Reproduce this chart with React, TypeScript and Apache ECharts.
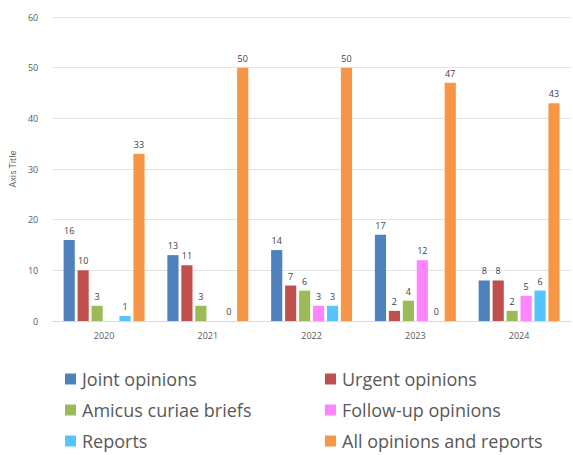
import React, { useEffect, useRef } from "react";
import * as echarts from "echarts";

// Opinions and reports issued per year
const years = ["2020", "2021", "2022", "2023", "2024"];
const jointOpinions = [16, 13, 14, 17, 8];
const urgentOpinions = [10, 11, 7, 2, 8];
const amicusBriefs = [3, 3, 6, 4, 2];
const followUpOpinions: (number | null)[] = [null, null, 3, 12, 5];
const reports = [1, 0, 3, 0, 6];
const allOpinionsAndReports = [33, 50, 50, 47, 43];
const yTicks = { min: 0, max: 60, interval: 10 };

const seriesDefs = [
  { name: "Joint opinions", data: jointOpinions, color: "#4F81BD" },
  { name: "Urgent opinions", data: urgentOpinions, color: "#C0504D" },
  { name: "Amicus curiae briefs", data: amicusBriefs, color: "#9BBB59" },
  { name: "Follow-up opinions", data: followUpOpinions, color: "#FF85FF" },
  { name: "Reports", data: reports, color: "#55C4FF" },
  { name: "All opinions and reports", data: allOpinionsAndReports, color: "#F79646" },
];

const FONT = "'Open Sans', 'Noto Sans', sans-serif";

export default function App() {
  const ref = useRef<HTMLDivElement>(null);

  useEffect(() => {
    if (!ref.current) return;
    const chart = echarts.init(ref.current, undefined, { renderer: "svg" });
    const legendText = {
      color: "#595959",
      fontSize: 18,
      lineHeight: 18,
      fontFamily: FONT,
      padding: [0, 0, 0, 1],
    };
    const legendBase = {
      orient: "vertical",
      top: 370,
      padding: 0,
      itemWidth: 11,
      itemHeight: 11,
      itemGap: 13,
      icon: "rect",
      textStyle: legendText,
    };
    chart.setOption({
      animation: false,
      backgroundColor: "#ffffff",
      grid: { left: 52, right: 2, top: 17, bottom: 134, containLabel: false },
      legend: [
        { ...legendBase, left: 65, data: ["Joint opinions", "Amicus curiae briefs", "Reports"] },
        {
          ...legendBase,
          left: 325,
          data: ["Urgent opinions", "Follow-up opinions", "All opinions and reports"],
        },
      ],
      xAxis: {
        type: "category",
        data: years,
        axisTick: { show: false },
        axisLine: { lineStyle: { color: "#d9d9d9" } },
        axisLabel: { color: "#595959", fontSize: 9, fontFamily: FONT, margin: 10 },
      },
      yAxis: {
        type: "value",
        min: yTicks.min,
        max: yTicks.max,
        interval: yTicks.interval,
        name: "Axis Title",
        nameLocation: "middle",
        nameGap: 34,
        nameRotate: 90,
        nameTextStyle: { color: "#595959", fontSize: 9, fontFamily: FONT },
        axisLine: { show: false },
        axisTick: { show: false },
        axisLabel: { color: "#595959", fontSize: 9, fontFamily: FONT, margin: 14 },
        splitLine: { lineStyle: { color: "#e3e3e3" } },
      },
      series: seriesDefs.map((s) => ({
        name: s.name,
        type: "bar",
        data: s.data,
        barGap: "25%",
        barCategoryGap: "22%",
        itemStyle: { color: s.color },
        label: {
          show: true,
          position: "top",
          distance: 5,
          color: "#404040",
          fontSize: 9,
          fontFamily: FONT,
        },
      })),
    });
    return () => chart.dispose();
  }, []);

  return (
    <div
      ref={ref}
      style={{ position: "fixed", left: 0, top: 0, width: 573, height: 455 }}
    />
  );
}
